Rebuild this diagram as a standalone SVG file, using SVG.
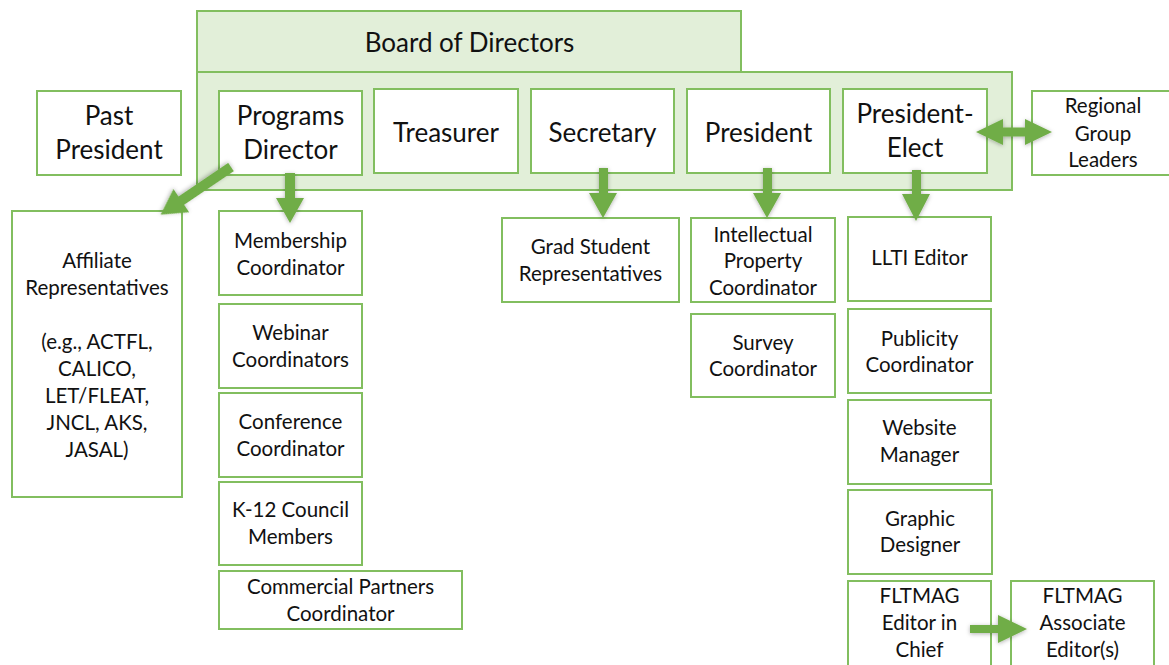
<svg xmlns="http://www.w3.org/2000/svg" width="1169" height="665" viewBox="0 0 1169 665">
<style>
.band{fill:#e2efd9;stroke:#82be5f;stroke-width:2}
.box{fill:#ffffff;stroke:#82be5f;stroke-width:2}
.arr{fill:#70ad47;filter:url(#sh)}
text{font-family:Lato,"Liberation Sans",sans-serif;fill:#111;text-anchor:middle}
.big{font-size:26px}
.sm{font-size:20.5px}
</style>
<defs>
<filter id="sh" x="-30%" y="-30%" width="160%" height="160%">
<feDropShadow dx="0" dy="1" stdDeviation="2" flood-color="#000" flood-opacity="0.3"/>
</filter>
</defs>
<rect width="1169" height="665" fill="#fff"/>
<g id="board">
<rect class="band" x="197" y="72" width="815" height="118"/>
<rect class="band" x="197" y="11" width="544" height="61"/>
<text class="big" x="469.5" y="52">Board of Directors</text>
</g>
<g id="past-president">
<rect class="box" x="37" y="91" width="144" height="84"/>
<text class="big" x="109" y="125">Past</text>
<text class="big" x="109" y="159">President</text>
</g>
<g id="programs-director">
<rect class="box" x="219" y="91" width="143" height="84"/>
<text class="big" x="290.5" y="125">Programs</text>
<text class="big" x="290.5" y="159">Director</text>
</g>
<g id="treasurer">
<rect class="box" x="374" y="89" width="144" height="84"/>
<text class="big" x="446" y="142">Treasurer</text>
</g>
<g id="secretary">
<rect class="box" x="531" y="89" width="143" height="84"/>
<text class="big" x="602.5" y="142">Secretary</text>
</g>
<g id="president">
<rect class="box" x="687" y="89" width="143" height="84"/>
<text class="big" x="758.5" y="142">President</text>
</g>
<g id="president-elect">
<rect class="box" x="843" y="89" width="144" height="84"/>
<text class="big" x="915" y="123">President-</text>
<text class="big" x="915" y="157">Elect</text>
</g>
<g id="regional">
<rect class="box" x="1032" y="91" width="140" height="84"/>
<text class="sm" x="1103" y="113">Regional</text>
<text class="sm" x="1103" y="141">Group</text>
<text class="sm" x="1103" y="167">Leaders</text>
</g>
<g id="affiliate">
<rect class="box" x="12" y="211" width="170" height="286"/>
<text class="sm" x="97" y="268">Affiliate</text>
<text class="sm" x="97" y="295">Representatives</text>
<text class="sm" x="97" y="349">(e.g., ACTFL,</text>
<text class="sm" x="97" y="376">CALICO,</text>
<text class="sm" x="97" y="403">LET/FLEAT,</text>
<text class="sm" x="97" y="430">JNCL, AKS,</text>
<text class="sm" x="97" y="457">JASAL)</text>
</g>
<g id="membership">
<rect class="box" x="219" y="211" width="143" height="84"/>
<text class="sm" x="290.5" y="248">Membership</text>
<text class="sm" x="290.5" y="275">Coordinator</text>
</g>
<g id="webinar">
<rect class="box" x="219" y="304" width="143" height="84"/>
<text class="sm" x="290.5" y="340">Webinar</text>
<text class="sm" x="290.5" y="367">Coordinators</text>
</g>
<g id="conference">
<rect class="box" x="219" y="393" width="143" height="84"/>
<text class="sm" x="290.5" y="429">Conference</text>
<text class="sm" x="290.5" y="456">Coordinator</text>
</g>
<g id="k12">
<rect class="box" x="219" y="482" width="143" height="83"/>
<text class="sm" x="290.5" y="517">K-12 Council</text>
<text class="sm" x="290.5" y="544">Members</text>
</g>
<g id="commercial">
<rect class="box" x="219" y="571" width="243" height="58"/>
<text class="sm" x="340.5" y="594">Commercial Partners</text>
<text class="sm" x="340.5" y="621">Coordinator</text>
</g>
<g id="grad-student">
<rect class="box" x="502" y="218" width="177" height="84"/>
<text class="sm" x="590.5" y="254">Grad Student</text>
<text class="sm" x="590.5" y="281">Representatives</text>
</g>
<g id="intellectual-property">
<rect class="box" x="691" y="218" width="144" height="84"/>
<text class="sm" x="763" y="242">Intellectual</text>
<text class="sm" x="763" y="268">Property</text>
<text class="sm" x="763" y="295">Coordinator</text>
</g>
<g id="survey">
<rect class="box" x="691" y="314" width="144" height="83"/>
<text class="sm" x="763" y="350">Survey</text>
<text class="sm" x="763" y="376">Coordinator</text>
</g>
<g id="llti">
<rect class="box" x="848" y="217" width="143" height="84"/>
<text class="sm" x="919.5" y="265">LLTI Editor</text>
</g>
<g id="publicity">
<rect class="box" x="848" y="309" width="143" height="84"/>
<text class="sm" x="919.5" y="346">Publicity</text>
<text class="sm" x="919.5" y="372">Coordinator</text>
</g>
<g id="website">
<rect class="box" x="848" y="400" width="143" height="84"/>
<text class="sm" x="919.5" y="435">Website</text>
<text class="sm" x="919.5" y="462">Manager</text>
</g>
<g id="graphic">
<rect class="box" x="848" y="490" width="144" height="84"/>
<text class="sm" x="920" y="526">Graphic</text>
<text class="sm" x="920" y="552">Designer</text>
</g>
<g id="fltmag-editor">
<rect class="box" x="848" y="581" width="143" height="86"/>
<text class="sm" x="919.5" y="603">FLTMAG</text>
<text class="sm" x="919.5" y="630">Editor in</text>
<text class="sm" x="919.5" y="657">Chief</text>
</g>
<g id="fltmag-associate">
<rect class="box" x="1011" y="581" width="143" height="86"/>
<text class="sm" x="1082.5" y="603">FLTMAG</text>
<text class="sm" x="1082.5" y="630">Associate</text>
<text class="sm" x="1082.5" y="657">Editor(s)</text>
</g>
<g id="connectors">
<polygon class="arr" points="0,-5 60,-5 60,-14 85,0 60,14 60,5 0,5" transform="translate(231,167) rotate(145.9)"/>
<polygon class="arr" points="285,173 295,173 295,198 304,198 290,223 276,198 285,198"/>
<polygon class="arr" points="599,168 608,168 608,193 617,193 603,218 589,193 599,193"/>
<polygon class="arr" points="763,168 772,168 772,193 781,193 767,218 753,193 763,193"/>
<polygon class="arr" points="912,170 921,170 921,194 930,194 916,221 902,194 912,194"/>
<polygon class="arr" points="976,132 1003,119 1003,127.5 1025,127.5 1025,119 1052,132 1025,145 1025,136.5 1003,136.5 1003,145"/>
<polygon class="arr" points="970,625 998,625 998,615 1027,629 998,643 998,633 970,633"/>
</g>
</svg>
